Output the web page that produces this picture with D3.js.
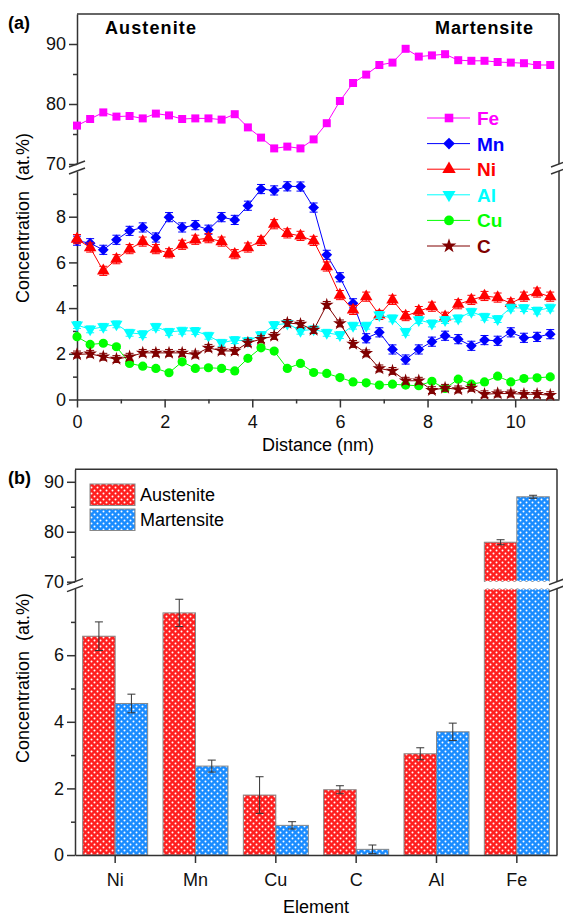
<!DOCTYPE html>
<html>
<head>
<meta charset="utf-8">
<script src="https://cdn.jsdelivr.net/npm/d3@7"></script>
<style>
  body { margin: 0; background: #fff; }
  svg { display: block; font-family: "Liberation Sans", Arial, sans-serif; }
</style>
</head>
<body>
<svg id="chart" width="563" height="919"></svg>
<script>
// ---- data, panel (a) ----
const distance = [0, 0.3, 0.6, 0.9, 1.2, 1.5, 1.8, 2.1, 2.4, 2.7, 3.0, 3.3, 3.6, 3.9, 4.2, 4.5, 4.8, 5.1, 5.4,
  5.7, 6.0, 6.3, 6.6, 6.9, 7.2, 7.5, 7.8, 8.1, 8.4, 8.7, 9.0, 9.3, 9.6, 9.9, 10.2, 10.5, 10.8];
const fe = [76.4, 77.5, 78.6, 77.9, 78.0, 77.6, 78.4, 78.1, 77.5, 77.6, 77.6, 77.4, 78.3, 76.1, 74.4, 72.6, 72.9, 72.6, 74.1,
  76.8, 80.5, 83.5, 84.9, 86.5, 86.9, 89.2, 87.9, 88.1, 88.3, 87.3, 87.2, 87.2, 87.0, 86.9, 86.8, 86.5, 86.5];
const mn = [6.95, 6.84, 6.55, 6.99, 7.38, 7.53, 7.09, 7.98, 7.53, 7.63, 7.43, 7.98, 7.86, 8.48, 9.21, 9.15, 9.33, 9.32, 8.4,
  6.33, 5.35, 4.21, 2.68, 2.94, 2.19, 1.75, 2.19, 2.53, 2.79, 2.64, 2.35, 2.6, 2.57, 2.94, 2.7, 2.74, 2.86];
const ni = [7.02, 6.65, 5.63, 6.14, 6.58, 6.91, 6.58, 6.4, 6.77, 6.99, 7.06, 6.91, 6.36, 6.65, 6.94, 7.67, 7.27, 7.16, 6.94,
  5.82, 4.57, 3.92, 4.5, 3.7, 4.36, 3.65, 3.87, 4.06, 3.62, 4.17, 4.36, 4.53, 4.46, 4.21, 4.5, 4.68, 4.5];
const al = [3.26, 3.07, 3.18, 3.29, 2.92, 2.86, 3.18, 2.96, 3.01, 3.0, 2.79, 2.48, 2.6, 2.56, 2.82, 3.26, 3.33, 3.01, 3.07,
  2.92, 2.82, 3.23, 3.23, 3.7, 3.55, 2.96, 3.48, 3.33, 3.48, 3.55, 3.84, 3.62, 3.52, 4.02, 4.0, 3.89, 4.02];
const cu = [2.75, 2.41, 2.46, 2.31, 1.58, 1.46, 1.36, 1.17, 1.65, 1.36, 1.39, 1.36, 1.25, 1.8, 2.26, 2.12, 1.36, 1.58, 1.18,
  1.14, 0.96, 0.77, 0.73, 0.63, 0.67, 0.63, 0.6, 0.8, 0.48, 0.89, 0.67, 0.77, 1.02, 0.77, 0.92, 0.95, 0.99];
const carbon = [1.97, 2.0, 1.87, 1.77, 1.87, 2.04, 2.04, 2.04, 2.04, 1.97, 2.26, 2.13, 2.12, 2.48, 2.64, 2.78, 3.35, 3.3, 3.04,
  4.14, 3.33, 2.43, 2.02, 1.36, 1.25, 0.82, 0.82, 0.41, 0.51, 0.44, 0.51, 0.23, 0.26, 0.26, 0.23, 0.23, 0.19];
// rough error half-widths per series
const seriesNames = ["Fe", "Mn", "Ni", "Al", "Cu", "C"];
const seriesErr = [0, 0.2, 0.2, 0.15, 0.08, 0.15];

// ---- data, panel (b) ----
const elements = ["Ni", "Mn", "Cu", "C", "Al", "Fe"];
const austenite = [6.57, 7.27, 1.80, 1.96, 3.04, 77.9];
const austeniteErr = [0.43, 0.41, 0.55, 0.12, 0.18, 0.5];
const martensite = [4.55, 2.67, 0.89, 0.17, 3.70, 87.0];
const martensiteErr = [0.28, 0.18, 0.11, 0.13, 0.26, 0.3];

const svg = d3.select("#chart");
const AXIS = "#333";
const FONT = 18;

const series = [
  { name: "Fe", values: fe, color: "#ff00ff", symbol: d3.symbolSquare, size: 64, rot: 0, upper: true },
  { name: "Mn", values: mn, color: "#0000ff", symbol: d3.symbolSquare, size: 58, rot: 45 },
  { name: "Ni", values: ni, color: "#ff0000", symbol: d3.symbolTriangle, size: 68, rot: 0 },
  { name: "Al", values: al, color: "#00ffff", symbol: d3.symbolTriangle, size: 64, rot: 180 },
  { name: "Cu", values: cu, color: "#00ff00", symbol: d3.symbolCircle, size: 66, rot: 0 },
  { name: "C", values: carbon, color: "#800000", symbol: d3.symbolStar, size: 58, rot: 0 }
];
series.forEach((s) => (s.err = seriesErr[seriesNames.indexOf(s.name)]));

// draw a "//" axis break at (x, y)
function breakMarks(g, x, y) {
  [-3.5, 3.5].forEach((dy) => {
    g.append("line")
      .attr("x1", x - 8).attr("y1", y + dy + 3)
      .attr("x2", x + 8).attr("y2", y + dy - 3)
      .attr("stroke", AXIS).attr("stroke-width", 1.5);
  });
}

function styleAxis(g) {
  g.selectAll("path, line").attr("stroke", AXIS).attr("stroke-width", 1.5);
  g.selectAll("text").attr("font-size", FONT).attr("fill", "#111");
}

function minorAxis(g, axisFn, scale, vals) {
  g.call(axisFn(scale).tickValues(vals).tickSize(4).tickSizeOuter(0).tickFormat(""))
    .call((a) => a.select(".domain").remove())
    .selectAll("line").attr("stroke", AXIS).attr("stroke-width", 1.5);
}

// ================= panel (a) =================
const x = d3.scaleLinear([0, 11], [77, 559]);
const yUp = d3.scaleLinear([70, 95], [164, 14]);
const yLo = d3.scaleLinear([0, 10], [399.5, 171]);

const pa = svg.append("g");

// axes
pa.append("g").attr("transform", "translate(77,0)")
  .call(d3.axisLeft(yUp).tickValues([70, 80, 90]).tickSize(8).tickSizeOuter(0)).call(styleAxis);
minorAxis(pa.append("g").attr("transform", "translate(77,0)"), d3.axisLeft, yUp, [75, 85]);

pa.append("g").attr("transform", "translate(77,0)")
  .call(d3.axisLeft(yLo).tickValues([0, 2, 4, 6, 8]).tickSize(8).tickSizeOuter(0)).call(styleAxis);
minorAxis(pa.append("g").attr("transform", "translate(77,0)"), d3.axisLeft, yLo, [1, 3, 5, 7, 9]);

const aBottom = pa.append("g").attr("transform", `translate(0,${yLo(0)})`);
aBottom.call(d3.axisBottom(x).tickValues([0, 2, 4, 6, 8, 10]).tickSize(8).tickSizeOuter(0)).call(styleAxis);
aBottom.selectAll("text").attr("dy", "0.95em");
minorAxis(pa.append("g").attr("transform", `translate(0,${yLo(0)})`), d3.axisBottom, x, [1, 3, 5, 7, 9]);

// frame: top and right
pa.append("line").attr("x1", 77).attr("x2", 559).attr("y1", 14).attr("y2", 14)
  .attr("stroke", AXIS).attr("stroke-width", 1.5);
pa.append("line").attr("x1", 559).attr("x2", 559).attr("y1", 14).attr("y2", yUp(70))
  .attr("stroke", AXIS).attr("stroke-width", 1.5);
pa.append("line").attr("x1", 559).attr("x2", 559).attr("y1", yLo(10)).attr("y2", yLo(0))
  .attr("stroke", AXIS).attr("stroke-width", 1.5);
breakMarks(pa, 77, (yUp(70) + yLo(10)) / 2);
breakMarks(pa, 559, (yUp(70) + yLo(10)) / 2);

// series
series.forEach((s) => {
  const y = s.upper ? yUp : yLo;
  const pts = distance.map((d, i) => ({ d, v: s.values[i] }));
  const g = pa.append("g");
  g.append("path")
    .datum(pts)
    .attr("fill", "none")
    .attr("stroke", s.color)
    .attr("stroke-width", 1)
    .attr("d", d3.line().x((p) => x(p.d)).y((p) => y(p.v)));
  if (s.err > 0) {
    const eb = g.append("g").attr("stroke", s.color).attr("stroke-width", 1);
    pts.forEach((p) => {
      const cx = x(p.d);
      const y1 = y(p.v - s.err), y2 = y(p.v + s.err);
      eb.append("line").attr("x1", cx).attr("x2", cx).attr("y1", y1).attr("y2", y2);
      eb.append("line").attr("x1", cx - 4).attr("x2", cx + 4).attr("y1", y1).attr("y2", y1);
      eb.append("line").attr("x1", cx - 4).attr("x2", cx + 4).attr("y1", y2).attr("y2", y2);
    });
  }
  g.selectAll("path.m")
    .data(pts)
    .join("path")
    .attr("class", "m")
    .attr("fill", s.color)
    .attr("d", d3.symbol(s.symbol, s.size))
    .attr("transform", (p) => `translate(${x(p.d)},${y(p.v)}) rotate(${s.rot})`);
});

// legend (a)
const legA = pa.append("g");
series.forEach((s, i) => {
  const ly = 118 + i * 25.6;
  legA.append("line").attr("x1", 427).attr("x2", 470).attr("y1", ly).attr("y2", ly)
    .attr("stroke", s.color).attr("stroke-width", 1);
  legA.append("path").attr("fill", s.color)
    .attr("d", d3.symbol(s.symbol, s.size + 10))
    .attr("transform", `translate(449,${ly}) rotate(${s.rot})`);
  legA.append("text").attr("x", 477).attr("y", ly + 7)
    .attr("font-size", 19).attr("font-weight", "bold").attr("fill", s.color).text(s.name);
});

pa.append("text").attr("x", 105).attr("y", 34).attr("font-size", 18).attr("font-weight", "bold")
  .attr("textLength", 91).text("Austenite");
pa.append("text").attr("x", 435).attr("y", 34).attr("font-size", 18).attr("font-weight", "bold")
  .attr("textLength", 98).text("Martensite");
pa.append("text").attr("x", 8).attr("y", 29).attr("font-size", 18).attr("font-weight", "bold").text("(a)");
pa.append("text").attr("x", 318).attr("y", 451).attr("text-anchor", "middle").attr("font-size", FONT)
  .text("Distance (nm)");
pa.append("text").attr("transform", "translate(29,218) rotate(-90)").attr("text-anchor", "middle")
  .attr("font-size", FONT).style("white-space", "pre").text("Concentration  (at.%)");

// ================= panel (b) =================
const defs = svg.append("defs");
function dotPattern(id, color) {
  const p = defs.append("pattern").attr("id", id).attr("patternUnits", "userSpaceOnUse")
    .attr("width", 6).attr("height", 6);
  p.append("rect").attr("width", 6).attr("height", 6).attr("fill", color);
  [[1.5, 1.5], [4.5, 4.5]].forEach(([cx, cy]) =>
    p.append("circle").attr("cx", cx).attr("cy", cy).attr("r", 1).attr("fill", "#fff"));
}
dotPattern("dotRed", "#ff1f1f");
dotPattern("dotBlue", "#1a8cff");

const xb = d3.scaleBand(elements, [75, 557]);
const bw = 32.5;
const ybUp = d3.scaleLinear([70, 92.5], [581.7, 469.3]);
const ybLo = d3.scaleLinear([0, 8], [855, 588.6]);

const pb = svg.append("g");

// bars
const groups = [
  { vals: austenite, errs: austeniteErr, fill: "url(#dotRed)", off: -bw },
  { vals: martensite, errs: martensiteErr, fill: "url(#dotBlue)", off: 0 }
];
groups.forEach((grp) => {
  elements.forEach((el, i) => {
    const bx = xb(el) + xb.bandwidth() / 2 + grp.off;
    const v = grp.vals[i];
    if (v > 8) {
      pb.append("rect").attr("x", bx).attr("width", bw)
        .attr("y", ybLo(8)).attr("height", ybLo(0) - ybLo(8))
        .attr("fill", grp.fill).attr("stroke", "#888").attr("stroke-width", 1);
      pb.append("rect").attr("x", bx).attr("width", bw)
        .attr("y", ybUp(v)).attr("height", ybUp(70) - ybUp(v))
        .attr("fill", grp.fill).attr("stroke", "#888").attr("stroke-width", 1);
    } else {
      pb.append("rect").attr("x", bx).attr("width", bw)
        .attr("y", ybLo(v)).attr("height", ybLo(0) - ybLo(v))
        .attr("fill", grp.fill).attr("stroke", "#888").attr("stroke-width", 1);
    }
  });
});

// wavy white gap across the broken bars
(function () {
  const x0 = 480, x1 = 552, top = ybUp(70) - 0.5, bot = ybLo(8) + 0.5;
  let d = `M${x0},${top}`;
  for (let xx = x0; xx < x1; xx += 6) d += ` q1.5,-1.6 3,0 q1.5,1.6 3,0`;
  d += ` L${x1},${bot}`;
  for (let xx = x1; xx > x0; xx -= 6) d += ` q-1.5,1.6 -3,0 q-1.5,-1.6 -3,0`;
  d += " Z";
  pb.append("path").attr("d", d).attr("fill", "#fff");
})();

// error bars
groups.forEach((grp) => {
  elements.forEach((el, i) => {
    const cx = xb(el) + xb.bandwidth() / 2 + grp.off + bw / 2;
    const v = grp.vals[i], e = grp.errs[i];
    const y = v > 8 ? ybUp : ybLo;
    const y1 = y(v - e), y2 = y(v + e);
    const eb = pb.append("g").attr("stroke", "#333").attr("stroke-width", 1);
    eb.append("line").attr("x1", cx).attr("x2", cx).attr("y1", y1).attr("y2", y2);
    eb.append("line").attr("x1", cx - 4).attr("x2", cx + 4).attr("y1", y1).attr("y2", y1);
    eb.append("line").attr("x1", cx - 4).attr("x2", cx + 4).attr("y1", y2).attr("y2", y2);
  });
});

// axes (b)
pb.append("g").attr("transform", "translate(75,0)")
  .call(d3.axisLeft(ybUp).tickValues([70, 80, 90]).tickSize(8).tickSizeOuter(0)).call(styleAxis);
minorAxis(pb.append("g").attr("transform", "translate(75,0)"), d3.axisLeft, ybUp, [75, 85]);
pb.append("g").attr("transform", "translate(75,0)")
  .call(d3.axisLeft(ybLo).tickValues([0, 2, 4, 6]).tickSize(8).tickSizeOuter(0)).call(styleAxis);
minorAxis(pb.append("g").attr("transform", "translate(75,0)"), d3.axisLeft, ybLo, [1, 3, 5, 7]);

const bAxis = pb.append("g").attr("transform", `translate(0,${ybLo(0)})`);
bAxis.call(d3.axisBottom(xb).tickSize(8).tickSizeOuter(0)).call(styleAxis);
bAxis.selectAll("text").attr("dy", "1.1em");

pb.append("line").attr("x1", 75).attr("x2", 557).attr("y1", 469.3).attr("y2", 469.3)
  .attr("stroke", AXIS).attr("stroke-width", 1.5);
pb.append("line").attr("x1", 557).attr("x2", 557).attr("y1", 469.3).attr("y2", ybUp(70))
  .attr("stroke", AXIS).attr("stroke-width", 1.5);
pb.append("line").attr("x1", 557).attr("x2", 557).attr("y1", ybLo(8)).attr("y2", ybLo(0))
  .attr("stroke", AXIS).attr("stroke-width", 1.5);
breakMarks(pb, 75, (ybUp(70) + ybLo(8)) / 2);
breakMarks(pb, 557, (ybUp(70) + ybLo(8)) / 2);

// legend (b)
const legB = pb.append("g");
[["Austenite", "url(#dotRed)"], ["Martensite", "url(#dotBlue)"]].forEach(([label, fill], i) => {
  const ly = 484 + i * 25;
  legB.append("rect").attr("x", 90).attr("y", ly).attr("width", 45).attr("height", 21.5)
    .attr("fill", fill).attr("stroke", "#888").attr("stroke-width", 1);
  legB.append("text").attr("x", 140).attr("y", ly + 17).attr("font-size", FONT).text(label);
});

pb.append("text").attr("x", 8).attr("y", 484).attr("font-size", 18).attr("font-weight", "bold").text("(b)");
pb.append("text").attr("x", 316).attr("y", 913).attr("text-anchor", "middle").attr("font-size", FONT)
  .text("Element");
pb.append("text").attr("transform", "translate(29,678) rotate(-90)").attr("text-anchor", "middle")
  .attr("font-size", FONT).style("white-space", "pre").text("Concentration  (at.%)");
</script>
</body>
</html>
